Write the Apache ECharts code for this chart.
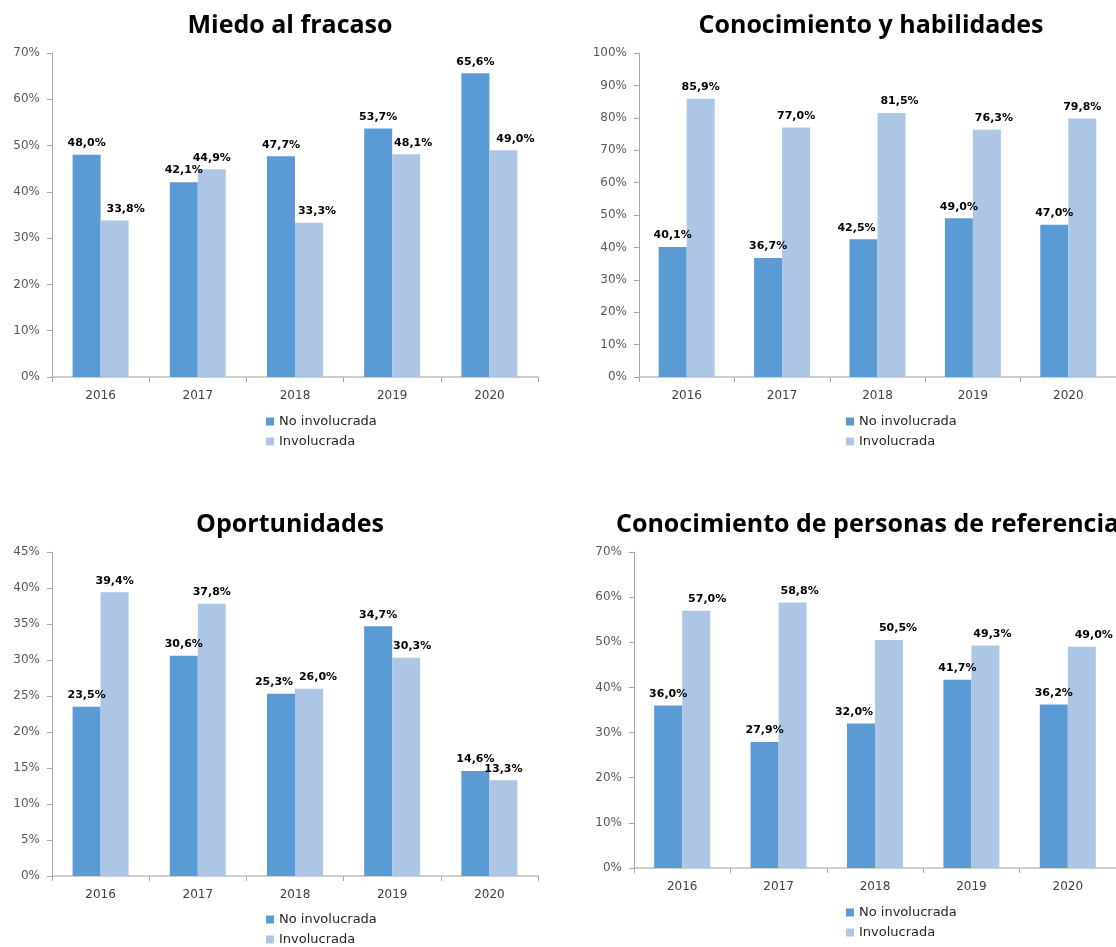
<!DOCTYPE html>
<html>
<head>
<meta charset="utf-8">
<script src="https://cdn.jsdelivr.net/npm/echarts@6/dist/echarts.min.js"></script>
<style>
html,body{margin:0;padding:0;background:#fff;overflow:hidden;}
#main{width:1116px;height:947px;}
</style>
</head>
<body>
<div id="main"></div>
<script>
const years = ['2016','2017','2018','2019','2020'];
const seriesNames = ['No involucrada','Involucrada'];
const titles = ['Miedo al fracaso','Conocimiento y habilidades','Oportunidades','Conocimiento de personas de referencia'];

const miedoNo = [48.0, 42.1, 47.7, 53.7, 65.6];
const miedoInv = [33.8, 44.9, 33.3, 48.1, 49.0];
const habilNo = [40.1, 36.7, 42.5, 49.0, 47.0];
const habilInv = [85.9, 77.0, 81.5, 76.3, 79.8];
const oportNo = [23.5, 30.6, 25.3, 34.7, 14.6];
const oportInv = [39.4, 37.8, 26.0, 30.3, 13.3];
const refNo = [36.0, 27.9, 32.0, 41.7, 36.2];
const refInv = [57.0, 58.8, 50.5, 49.3, 49.0];

const yMax = [70, 100, 45, 70];
const yStep = [10, 10, 5, 10];

const panelData = [[miedoNo, miedoInv],[habilNo, habilInv],[oportNo, oportInv],[refNo, refInv]];

// ---- styling / layout (pixels) ----
const grids = [
  {left:52, top:53, width:486, height:324},
  {left:639, top:53, width:486, height:324},
  {left:52, top:552, width:486, height:324},
  {left:634, top:552, width:486, height:316}
];
const titlePos = [
  {x:285, y:8},
  {x:866, y:8},
  {x:285, y:507},
  {x:611, y:507, align:'left'}
];
const legendPos = [
  {left:261, top:410},
  {left:841, top:410},
  {left:261, top:908},
  {left:841, top:901}
];
// horizontal nudges of value labels (as placed in the original to avoid overlaps)
const labelNudge = [
  [[0,0,0,0,0],[11,0,8,7,12]],
  [[0,0,-7,0,0],[0,0,8,7,0]],
  [[0,0,-7,0,0],[0,0,9,6,0]],
  [[0,0,-7,0,0],[11,7,9,7,12]]
];

const C_DARK = '#5B9BD5';
const C_LIGHT = '#ADC6E6';
const FONT = 'DejaVu Sans';

const fmt = v => v.toFixed(1).replace('.', ',') + '%';

const option = {
  animation:false,
  backgroundColor:'#ffffff',
  title: titlePos.map((p,i)=>({
    text: titles[i],
    left: p.x, top: p.y,
    textAlign: p.align || 'center',
    textStyle:{fontFamily:'Open Sans', fontWeight:'bold', fontSize:25, color:'#000'}
  })),
  legend: legendPos.map(p=>({
    data: seriesNames,
    orient:'vertical',
    left:p.left, top:p.top, height:80,
    itemWidth:8, itemHeight:8, itemGap:7,
    icon:'rect',
    textStyle:{fontFamily:FONT, fontSize:13, color:'#262626'}
  })),
  grid: grids.map(g=>Object.assign({containLabel:false}, g)),
  xAxis: grids.map((g,i)=>({
    type:'category', gridIndex:i, data:years,
    axisLine:{lineStyle:{color:'#BFBFBF', width:1.5}},
    axisTick:{show:true, length:5, lineStyle:{color:'#A6A6A6'}},
    axisLabel:{fontFamily:FONT, fontSize:12, color:'#404040', margin:13}
  })),
  yAxis: grids.map((g,i)=>({
    type:'value', gridIndex:i, min:0, max:yMax[i], interval:yStep[i],
    axisLine:{show:true, lineStyle:{color:'#A6A6A6', width:1}},
    axisTick:{show:true, length:5, lineStyle:{color:'#A6A6A6'}},
    splitLine:{show:false},
    axisLabel:{fontFamily:FONT, fontSize:12, color:'#595959', margin:12, formatter: v => v + '%'}
  })),
  series: []
};

panelData.forEach((pair, i) => {
  pair.forEach((vals, k) => {
    option.series.push({
      type:'bar', name: seriesNames[k],
      xAxisIndex:i, yAxisIndex:i,
      data: vals.map((v, j) => ({
        value: v,
        label: labelNudge[i][k][j] ? {offset:[labelNudge[i][k][j], 0]} : undefined
      })),
      barWidth:28,
      barGap:'0%',
      itemStyle:{color: k===0 ? C_DARK : C_LIGHT},
      label:{show:true, position:'top', distance:6, fontFamily:FONT, fontWeight:'bold', fontSize:11, color:'#000', formatter: p => fmt(p.value)}
    });
  });
});

const chart = echarts.init(document.getElementById('main'));
chart.setOption(option);
</script>
</body>
</html>
